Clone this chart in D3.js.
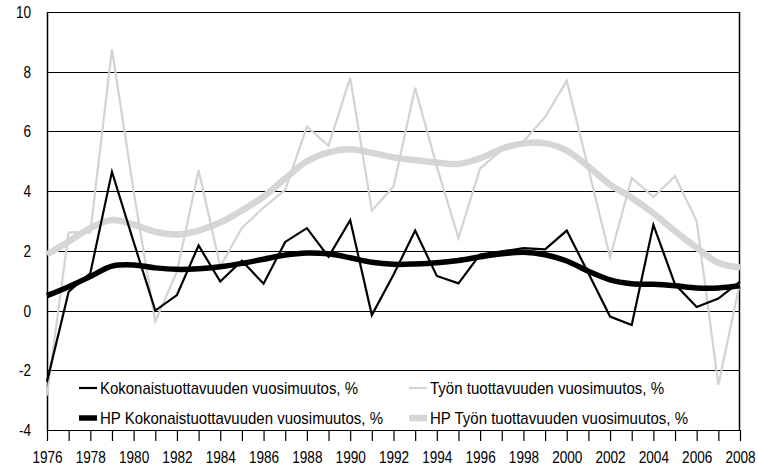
<!DOCTYPE html>
<html>
<head>
<meta charset="utf-8">
<script src="https://cdn.jsdelivr.net/npm/d3@7"></script>
<style>
  body { margin: 0; background: #fff; }
  text { font-family: "Liberation Sans Narrow", "Liberation Sans", Arial, sans-serif; fill: #000; }
</style>
</head>
<body>
<script>
// years on the x axis
var years = [1976, 1977, 1978, 1979, 1980, 1981, 1982, 1983, 1984, 1985, 1986, 1987, 1988,
  1989, 1990, 1991, 1992, 1993, 1994, 1995, 1996, 1997, 1998, 1999, 2000, 2001, 2002,
  2003, 2004, 2005, 2006, 2007, 2008];

// yearly change, %
var koko = [-2.38, 0.63, 1.25, 4.65, 2.3, 0.0, 0.52, 2.18, 0.97, 1.67, 0.9, 2.3, 2.76,
  1.8, 3.03, -0.15, 1.2, 2.68, 1.16, 0.91, 1.88, 1.98, 2.09, 2.05, 2.68, 1.25, -0.2,
  -0.48, 2.87, 0.88, 0.12, 0.4, 0.97];
var tyon = [-2.85, 2.62, 2.62, 8.75, 4.0, -0.37, 1.3, 4.7, 1.48, 2.77, 3.45, 4.04, 6.16,
  5.52, 7.8, 3.35, 4.15, 7.46, 4.82, 2.43, 4.76, 5.38, 5.66, 6.48, 7.7, 4.75, 1.79,
  4.44, 3.8, 4.5, 3.0, -2.49, 0.95];
// HP filtered trends
var hpKoko = [0.5, 0.8, 1.14, 1.49, 1.53, 1.43, 1.38, 1.4, 1.47, 1.58, 1.72, 1.86, 1.93,
  1.9, 1.77, 1.62, 1.55, 1.56, 1.6, 1.68, 1.8, 1.9, 1.95, 1.87, 1.66, 1.32, 1.03,
  0.9, 0.88, 0.83, 0.76, 0.76, 0.83];
var hpTyon = [1.88, 2.31, 2.76, 3.03, 2.88, 2.64, 2.55, 2.68, 2.95, 3.35, 3.82, 4.42, 5.0,
  5.3, 5.4, 5.28, 5.13, 5.04, 4.96, 4.91, 5.1, 5.42, 5.6, 5.6, 5.36, 4.82, 4.22,
  3.78, 3.26, 2.66, 2.1, 1.6, 1.44];

var yTicks = [-4, -2, 0, 2, 4, 6, 8, 10];
var xLabels = [1976, 1978, 1980, 1982, 1984, 1986, 1988, 1990, 1992, 1994, 1996, 1998,
  2000, 2002, 2004, 2006, 2008];

var legendNames = [
  "Kokonaistuottavuuden vuosimuutos, %",
  "Työn tuottavuuden vuosimuutos, %",
  "HP Kokonaistuottavuuden vuosimuutos, %",
  "HP Työn tuottavuuden vuosimuutos, %"
];

var svgWidth = 758;
var svgHeight = 470;
var margin = { top: 12, right: 18, bottom: 40, left: 47 };
var width = svgWidth - margin.left - margin.right;
var height = svgHeight - margin.top - margin.bottom;

// the original font is a condensed one, so tick labels get squeezed sideways
var squeezeX = 0.8;

var svg = d3.select("body").append("svg")
  .attr("width", svgWidth)
  .attr("height", svgHeight);

var g = svg.append("g")
  .attr("transform", `translate(${margin.left}, ${margin.top})`);

var x = d3.scaleLinear().domain([1976, 2008]).range([0, width]);
var y = d3.scaleLinear().domain([-4, 10]).range([height, 0]);

// horizontal grid lines
g.append("g")
  .selectAll("line")
  .data(yTicks)
  .enter().append("line")
  .attr("x1", 0).attr("x2", width)
  .attr("y1", d => Math.round(y(d)) + 0.5)
  .attr("y2", d => Math.round(y(d)) + 0.5)
  .attr("stroke", "#000")
  .attr("stroke-width", 1);

// frame: left and right sides
g.append("line").attr("x1", 0.5).attr("x2", 0.5).attr("y1", 0).attr("y2", height)
  .attr("stroke", "#000").attr("stroke-width", 1.5);
g.append("line").attr("x1", width - 0.5).attr("x2", width - 0.5).attr("y1", 0).attr("y2", height)
  .attr("stroke", "#000").attr("stroke-width", 1.5);

// y axis labels (plain hyphen for negatives, as in the original)
var leftAxis = d3.axisLeft(y).tickValues(yTicks).tickSize(0)
  .tickFormat(d => String(d));
var yAxisG = g.append("g").call(leftAxis);
yAxisG.select(".domain").remove();
yAxisG.selectAll("text")
  .style("font-size", "17px")
  .attr("x", -16 / squeezeX)
  .attr("transform", `scale(${squeezeX}, 1)`);

// x axis, a tick for every year
var bottomAxis = d3.axisBottom(x)
  .tickValues(years)
  .tickSize(11)
  .tickPadding(10)
  .tickFormat(d => xLabels.indexOf(d) >= 0 ? String(d) : "");
var xAxisG = g.append("g")
  .attr("transform", `translate(0, ${height})`)
  .call(bottomAxis);
xAxisG.select(".domain").remove();
xAxisG.selectAll("line").attr("stroke", "#000").attr("stroke-width", 1.2);
xAxisG.selectAll("text")
  .style("font-size", "17px")
  .attr("transform", `scale(${squeezeX}, 1)`);

// lines
var straight = d3.line().x((d, i) => x(years[i])).y(d => y(d));
var smooth = d3.line().x((d, i) => x(years[i])).y(d => y(d)).curve(d3.curveCatmullRom);

g.append("path").datum(hpTyon).attr("d", smooth)
  .attr("fill", "none").attr("stroke", "#d6d6d6").attr("stroke-width", 6.5);
g.append("path").datum(tyon).attr("d", straight)
  .attr("fill", "none").attr("stroke", "#d3d3d3").attr("stroke-width", 2.2)
  .attr("stroke-linejoin", "miter");
g.append("path").datum(hpKoko).attr("d", smooth)
  .attr("fill", "none").attr("stroke", "#000").attr("stroke-width", 5.5);
g.append("path").datum(koko).attr("d", straight)
  .attr("fill", "none").attr("stroke", "#000").attr("stroke-width", 2.2)
  .attr("stroke-linejoin", "miter");

// legend
var legendItems = [
  { name: legendNames[0], color: "#000", w: 2.2, lx: 32, ly: 376, tw: 258 },
  { name: legendNames[1], color: "#d3d3d3", w: 2.2, lx: 362, ly: 376, tw: 234 },
  { name: legendNames[2], color: "#000", w: 5.5, lx: 32, ly: 406, tw: 283 },
  { name: legendNames[3], color: "#d6d6d6", w: 6.5, lx: 362, ly: 406, tw: 258 }
];
var legend = g.append("g").selectAll("g")
  .data(legendItems)
  .enter().append("g")
  .attr("transform", d => `translate(${d.lx}, ${d.ly})`);
legend.append("line")
  .attr("x1", 0).attr("x2", 18).attr("y1", 0).attr("y2", 0)
  .attr("stroke", d => d.color)
  .attr("stroke-width", d => d.w);
legend.append("text")
  .attr("x", 21)
  .attr("dy", "0.36em")
  .style("font-size", "17px")
  .attr("textLength", d => d.tw)
  .attr("lengthAdjust", "spacingAndGlyphs")
  .text(d => d.name);
</script>
</body>
</html>
